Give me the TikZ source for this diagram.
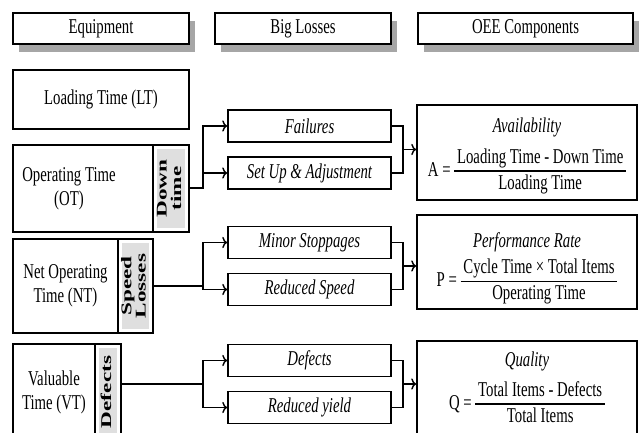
\documentclass[tikz,border=0pt]{standalone}
\usepackage{graphicx}
\usepackage{fontspec}
\setmainfont{Liberation Serif}[FakeStretch=0.7]
\newfontfamily\stripfont{Liberation Serif}
\usetikzlibrary{shadows,arrows.meta}

\newcommand{\basefont}{\fontsize{15pt}{17pt}\selectfont}
\newcommand{\striptext}[1]{\rotatebox{90}{\scalebox{1}[0.64]{\begin{tabular}{@{}c@{}}#1\end{tabular}}}}
\newcommand{\ratio}[2]{{\setlength{\arrayrulewidth}{1.2pt}\setlength{\tabcolsep}{2pt}%
  \begin{tabular}{c}#1\rule[-5pt]{0pt}{5pt}\\\hline\rule{0pt}{12.5pt}#2\end{tabular}}}

\begin{document}
\begin{tikzpicture}[
          x=1cm, y=-1cm,
          >={To[length=3.5pt,width=8pt]},
          header/.style={
            draw,
            line width=1pt,
            fill=white,
            minimum height=0.775cm,
            font=\basefont,
            drop shadow={shadow xshift=4.5pt, shadow yshift=-6pt, fill=black!35, opacity=1},
          },
          frame/.style={
            draw,
            line width=1.2pt,
            align=center,
            font=\basefont,
          },
          strip/.style={
            frame,
            inner sep=0pt,
            font=\stripfont\bfseries\fontsize{16.5pt}{16pt}\selectfont,
            path picture={\fill[gray!25]
              ([xshift=3pt,yshift=-3pt]path picture bounding box.north west) rectangle
              ([xshift=-3pt,yshift=3pt]path picture bounding box.south east);},
          },
          loss/.style={
            frame,
            minimum width=4.075cm,
            minimum height=0.8cm,
            font=\basefont\itshape,
          },
          oee/.style={
            frame,
            minimum width=5.5cm,
            inner ysep=0.5pt,
          },
          conn/.style={line width=1pt},
        ]
          \useasboundingbox (0,0) rectangle (16,10.8);
          \clip (0,0) rectangle (16,10.8);

          % column heads
          \node[header, minimum width=4.4cm] (equip) at (2.525,0.7125) {Equipment};
          \node[header, minimum width=4.4cm] (losses) at (7.575,0.7125) {Big Losses};
          \node[header, minimum width=5.375cm] (comp) at (13.1375,0.7125) {OEE Components};

          % equipment
          \node[frame, minimum width=4.4cm, minimum height=1.475cm] (lt) at (2.525,2.4875) {Loading Time (LT)};
          \node[frame, minimum width=3.5cm, minimum height=2.175cm] (ot) at (2.075,4.7125) {};
          \node[align=center, font=\basefont] (otname) at (1.725,4.7125) {Operating Time\\(OT)};
          \node[strip, minimum width=0.9cm, minimum height=2.175cm] (down) at (4.275,4.7125) {\striptext{Down\\time}};
          \node[frame, minimum width=2.625cm, minimum height=2.35cm] (nt) at (1.6375,7.15) {Net Operating\\Time (NT)};
          \node[strip, minimum width=0.875cm, minimum height=2.35cm] (speed) at (3.3875,7.15) {\striptext{Speed\\Losses}};
          \node[frame, minimum width=2.05cm, minimum height=2.4cm] (vt) at (1.35,9.8) {Valuable\\Time (VT)};
          \node[strip, minimum width=0.65cm, minimum height=2.4cm] (defects) at (2.7,9.8) {\striptext{Defects}};

          % big losses
          \node[loss] (fail) at (7.7375,3.15) {Failures};
          \node[loss] (setup) at (7.7375,4.325) {Set Up \& Adjustment};
          \node[loss] (minor) at (7.7375,6.0625) {Minor Stoppages};
          \node[loss] (rspeed) at (7.7375,7.2375) {Reduced Speed};
          \node[loss] (defect) at (7.7375,9.0125) {Defects};
          \node[loss] (ryield) at (7.7375,10.1875) {Reduced yield};

          % oee components
          \node[oee, minimum height=2.375cm] (avail) at (13.175,3.8125)
            {\rule{0pt}{17pt}\textit{Availability}\\[6pt]
             A =~\ratio{Loading Time - Down Time}{Loading Time}};
          \node[oee, minimum height=2.35cm] (perf) at (13.175,6.55)
            {\rule{0pt}{22pt}\textit{Performance Rate}\\[2pt]
             P =~\ratio{Cycle Time × Total Items}{Operating Time}};
          \node[oee, minimum height=2.4cm] (qual) at (13.175,9.725)
            {\rule{0pt}{13pt}\textit{Quality}\\[5pt]
             Q =~\ratio{Total Items - Defects}{Total Items}};

          \coordinate (j1) at (5.075,4.7);
          \coordinate (j2) at (5.075,7.15);
          \coordinate (j3) at (5.075,9.6);
          \coordinate (k1) at (10.075,3.7375);
          \coordinate (k2) at (10.075,6.65);
          \coordinate (k3) at (10.075,9.6);

          \draw[conn,->] (down.east |- j1) -- (j1) |- (fail.west);
          \draw[conn,->] (j1) |- (setup.west);
          \draw[conn,->] (speed.east |- j2) -- (j2) |- (minor.west);
          \draw[conn,->] (j2) |- (rspeed.west);
          \draw[conn,->] (defects.east |- j3) -- (j3) |- (defect.west);
          \draw[conn,->] (j3) |- (ryield.west);

          \draw[conn] (fail.east) -| (k1) |- (setup.east);
          \draw[conn,->] (k1) -- (k1 -| avail.west);
          \draw[conn] (minor.east) -| (k2) |- (rspeed.east);
          \draw[conn,->] (k2) -- (k2 -| perf.west);
          \draw[conn] (defect.east) -| (k3) |- (ryield.east);
          \draw[conn,->] (k3) -- (k3 -| qual.west);
        \end{tikzpicture}
\end{document}
